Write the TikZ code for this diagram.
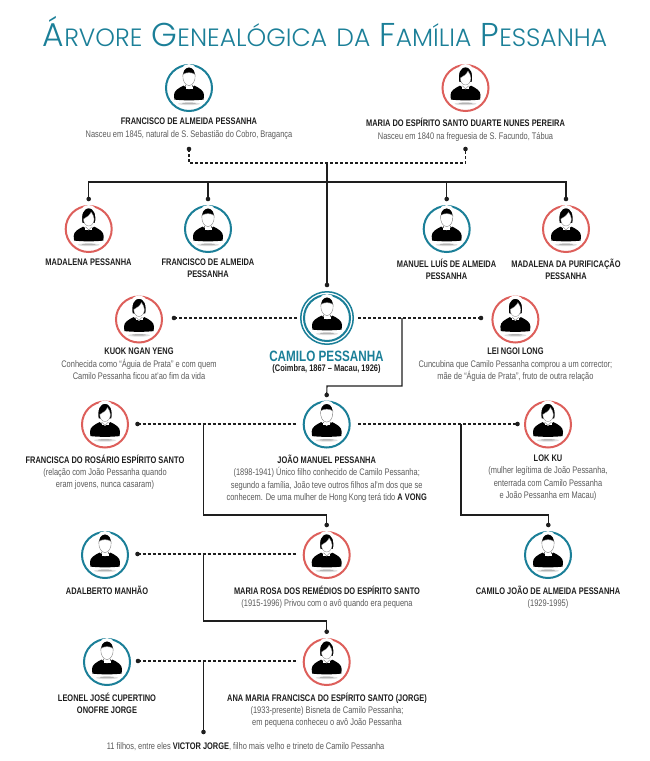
\documentclass[tikz,border=0pt]{standalone}
\usepackage{fontspec}
\setmainfont{Liberation Sans}[FakeStretch=0.78]
\newfontfamily\titlefont{Poppins Light}
\definecolor{teal}{HTML}{1B7F98}
\definecolor{coral}{HTML}{DD5F5B}
\definecolor{ink}{HTML}{1E1E1E}
\definecolor{descgray}{HTML}{5A5A5A}
\tikzset{
  ringnode/.style={circle,minimum size=46pt,inner sep=0pt,line width=2pt},
  dotnode/.style={circle,fill=ink,inner sep=0pt,minimum size=4.6pt},
  conn/.style={draw=ink,line width=1.1pt},
  rel/.style={draw=ink,line width=1.1pt,dash pattern=on 3pt off 2pt},
  label/.style={inner sep=0pt,anchor=north,align=center,text=ink,font=\fontsize{9.55}{12.35}\selectfont},
  halo/.style={draw=white,line width=3.2pt},
}
\newcommand\nm[1]{{\bfseries\color{ink}#1}}
\newcommand\dc[1]{{\color{descgray}#1}}
\newcommand\iconbody{%
  \fill[gray!25] (0,15.8) ellipse[x radius=11,y radius=1.4];
  \fill[gray!60] (0,15.4) ellipse[x radius=7,y radius=0.8];
  \fill[black] (-14.6,11.6) -- (-15,7) .. controls (-14.8,2.5) and (-11,0.5) .. (-5.5,-2.4)
     -- (0,1.5) -- (5.5,-2.4) .. controls (11,0.5) and (14.8,2.5) .. (15,7) -- (14.6,11.6)
     .. controls (5,12.6) and (-5,12.6) .. (-14.6,11.6) -- cycle;
}
\newcommand\iconm{%
  \iconbody
  \fill[white] (-3.5,-5) rectangle (3.5,0.6);
  \draw[gray,line width=.4pt] (-3.5,-3) -- (-3.5,-1.5) (3.5,-3) -- (3.5,-1.5);
  \path[halo,fill=black] (-7.3,-8) .. controls (-8.4,-17) and (-6,-22) .. (0,-22.3)
     .. controls (6,-22) and (8.4,-17) .. (7.3,-8) -- cycle;
  \path[draw=gray,line width=.4pt,fill=white] (-6.2,-13.5) .. controls (-3,-16) and (3,-16) .. (6.2,-13.5)
     .. controls (6.5,-7) and (4,-2.6) .. (0,-2.4) .. controls (-4,-2.6) and (-6.5,-7) .. (-6.2,-13.5) -- cycle;
}
\newcommand\iconf{%
  \iconbody
  \fill[white] (-3.5,-5) rectangle (3.5,0.8);
  \draw[gray,line width=.4pt] (-3.5,-2.5) -- (0,0.8) -- (3.5,-2.5);
  \path[halo,fill=black] (-7.8,-5) .. controls (-9.4,-15) and (-7,-22) .. (0,-22.3)
     .. controls (7,-22) and (9.4,-15) .. (7.8,-5) .. controls (5,-3.5) and (-5,-3.5) .. (-7.8,-5) -- cycle;
  \path[draw=gray,line width=.3pt,fill=white] (-5.2,-10) .. controls (-2,-11.5) and (1,-14) .. (2.5,-17)
     .. controls (4,-15) and (5.4,-12) .. (5.4,-10) .. controls (5.4,-6) and (3,-3) .. (0,-3)
     .. controls (-3,-3) and (-5.2,-6) .. (-5.2,-10) -- cycle;
}
\newcommand\person[5]{%
  \node[ringnode,draw=#4] (#1) at (#2,#3) {};
  \begin{scope}[shift={(#2,#3)}]\csname icon#5\endcsname\end{scope}%
}
\newcommand\txt[4]{\node[label] (#1) at (#2,#3-5.7) {#4};}
\newcommand\bigT[1]{{\fontsize{33}{33}\selectfont #1}}
\newcommand\smT[1]{{\fontsize{25}{33}\selectfont #1}}
\newcommand\tsp{\hspace{6.5pt}}
\begin{document}
\begin{tikzpicture}[x=1pt,y=-1pt]
\useasboundingbox (0,0) rectangle (650,761);
\node[inner sep=0pt,anchor=base,text=teal] (title) at (325,46) {\titlefont\bigT{Á}\smT{RVORE}\tsp{} \bigT{G}\smT{ENEALÓGICA}\tsp{} \smT{DA}\tsp{} \bigT{F}\smT{AMÍLIA}\tsp{} \bigT{P}\smT{ESSANHA}};

% junctions and free ends
\coordinate (j1) at (327,163);
\coordinate (j2) at (327,182);
\coordinate (camL) at (297,318);
\coordinate (camR) at (358,318);
\coordinate (camJ) at (402,318);
\coordinate (camB) at (327,386);
\coordinate (joaL) at (297,424);
\coordinate (joaR) at (358,424);
\coordinate (joaJl) at (203.5,424);
\coordinate (joaJr) at (461,424);
\coordinate (rosL) at (297,554);
\coordinate (rosJ) at (203.5,554);
\coordinate (anaL) at (297,661);
\coordinate (anaJ) at (203.5,661);

% dots
\node[dotnode] (dF) at (189,149) {};
\node[dotnode] (dM) at (465.5,149) {};
\node[dotnode] (d1) at (88.7,199) {};
\node[dotnode] (d2) at (208,199) {};
\node[dotnode] (d3) at (446.7,199) {};
\node[dotnode] (d4) at (566,199) {};
\node[dotnode] (dC) at (327,285) {};
\node[dotnode] (dK) at (174,318) {};
\node[dotnode] (dL) at (481,318) {};
\node[dotnode] (dJ) at (326.7,395) {};
\node[dotnode] (dFr) at (137.5,424) {};
\node[dotnode] (dLk) at (517.5,424) {};
\node[dotnode] (dR) at (326.7,525) {};
\node[dotnode] (dCJ) at (548.3,525) {};
\node[dotnode] (dAd) at (137.5,554) {};
\node[dotnode] (dAn) at (326.7,631.7) {};
\node[dotnode] (dLe) at (138,661) {};
\node[dotnode] (dV) at (203.5,732) {};

% connectors
\draw[rel] (dF.center) |- (j1) -| (dM.center);
\draw[conn] (j1) -- (dC.center);
\draw[conn] (d1.center) |- (j2) -| (d4.center);
\draw[conn] (d2.center) -- (d2.center |- j2);
\draw[conn] (d3.center) -- (d3.center |- j2);
\draw[rel] (dK.center) -- (camL);
\draw[rel] (camR) -- (dL.center);
\draw[conn] (camJ) |- (camB) -- (dJ.center);
\draw[rel] (dFr.center) -- (joaL);
\draw[rel] (joaR) -- (dLk.center);
\draw[conn] (joaJl) |- (dR.center |- 0,515) -- (dR.center);
\draw[conn] (joaJr) |- (dCJ.center |- 0,515) -- (dCJ.center);
\draw[rel] (dAd.center) -- (rosL);
\draw[conn] (rosJ) |- (dAn.center |- 0,621) -- (dAn.center);
\draw[rel] (dLe.center) -- (anaL);
\draw[conn] (anaJ) -- (dV.center);

% people
\person{pFr}{189}{88}{teal}{m}
\person{pMa}{465.5}{88}{coral}{f}
\person{pMd}{88.7}{229}{coral}{f}
\person{pFa}{208}{229}{teal}{m}
\person{pMn}{446.7}{229}{teal}{m}
\person{pPu}{566}{229}{coral}{f}
\node[circle,draw=teal,line width=1.5pt,minimum size=52.5pt,inner sep=0pt] (pCo) at (327,318) {};
\person{pCa}{327}{318}{teal}{m}
\person{pKu}{139}{319.5}{coral}{f}
\person{pLe}{515.4}{319.5}{coral}{f}
\person{pFc}{105}{424.5}{coral}{f}
\person{pJo}{326.7}{424.5}{teal}{m}
\person{pLo}{548}{424.5}{coral}{f}
\person{pAd}{105}{555}{teal}{m}
\person{pRo}{326.7}{555}{coral}{f}
\person{pCJ}{548}{555}{teal}{m}
\person{pLn}{107}{662}{teal}{m}
\person{pAn}{326.7}{662}{coral}{f}

% labels
\txt{tFr}{189}{123.7}{\nm{FRANCISCO DE ALMEIDA PESSANHA}\\ \dc{Nasceu em 1845, natural de S. Sebastião do Cobro, Bragança}}
\txt{tMa}{465.5}{123.7}{\nm{MARIA DO ESPÍRITO SANTO DUARTE NUNES PEREIRA}\\ \dc{Nasceu em 1840 na freguesia de S. Facundo, Tábua}}
\txt{tMd}{88.5}{264.3}{\nm{MADALENA PESSANHA}}
\txt{tFa}{208}{264.3}{\nm{FRANCISCO DE ALMEIDA}\\ \nm{PESSANHA}}
\txt{tMn}{446.5}{264.3}{\nm{MANUEL LUÍS DE ALMEIDA}\\ \nm{PESSANHA}}
\txt{tPu}{566}{264.3}{\nm{MADALENA DA PURIFICAÇÃO}\\ \nm{PESSANHA}}
\txt{tKu}{139}{353.7}{\nm{KUOK NGAN YENG}\\ \dc{Conhecida como “Águia de Prata” e com quem}\\ \dc{Camilo Pessanha ficou at'ao fim da vida}}
\node[inner sep=0pt,anchor=base,text=teal,font=\fontsize{15}{18}\selectfont\bfseries] (tCa) at (326.5,361.5) {CAMILO PESSANHA};
\txt{tCd}{326.5}{370.3}{\nm{(Coimbra, 1867 – Macau, 1926)}}
\txt{tLe}{515.4}{353.7}{\nm{LEI NGOI LONG}\\ \dc{Cuncubina que Camilo Pessanha comprou a um corrector;}\\ \dc{mãe de “Águia de Prata”, fruto de outra relação}}
\txt{tFc}{105}{460.3}{\nm{FRANCISCA DO ROSÁRIO ESPÍRITO SANTO}\\ \dc{(relação com João Pessanha quando}\\ \dc{eram jovens, nunca casaram)}}
\txt{tJo}{326.7}{460.3}{\nm{JOÃO MANUEL PESSANHA}\\ \dc{(1898-1941) Único filho conhecido de Camilo Pessanha;}\\ \dc{segundo a família, João teve outros filhos al’m dos que se}\\ \dc{conhecem. De uma mulher de Hong Kong terá tido} \nm{A VONG}}
\txt{tLo}{548}{460.3}{\nm{LOK KU}\\ \dc{(mulher legítima de João Pessanha,}\\ \dc{enterrada com Camilo Pessanha}\\ \dc{e João Pessanha em Macau)}}
\txt{tAd}{107}{591.3}{\nm{ADALBERTO MANHÃO}}
\txt{tRo}{327}{591.3}{\nm{MARIA ROSA DOS REMÉDIOS DO ESPÍRITO SANTO}\\ \dc{(1915-1996) Privou com o avô quando era pequena}}
\txt{tCJ}{548}{591.3}{\nm{CAMILO JOÃO DE ALMEIDA PESSANHA}\\ \dc{(1929-1995)}}
\txt{tLn}{107}{698.3}{\nm{LEONEL JOSÉ CUPERTINO}\\ \nm{ONOFRE JORGE}}
\txt{tAn}{327}{698.3}{\nm{ANA MARIA FRANCISCA DO ESPÍRITO SANTO (JORGE)}\\ \dc{(1933-presente) Bisneta de Camilo Pessanha;}\\ \dc{em pequena conheceu o avô João Pessanha}}
\txt{tVi}{245.6}{748.3}{\dc{11 filhos, entre eles} \nm{VICTOR JORGE}\dc{, filho mais velho e trineto de Camilo Pessanha}}
\end{tikzpicture}
\end{document}
